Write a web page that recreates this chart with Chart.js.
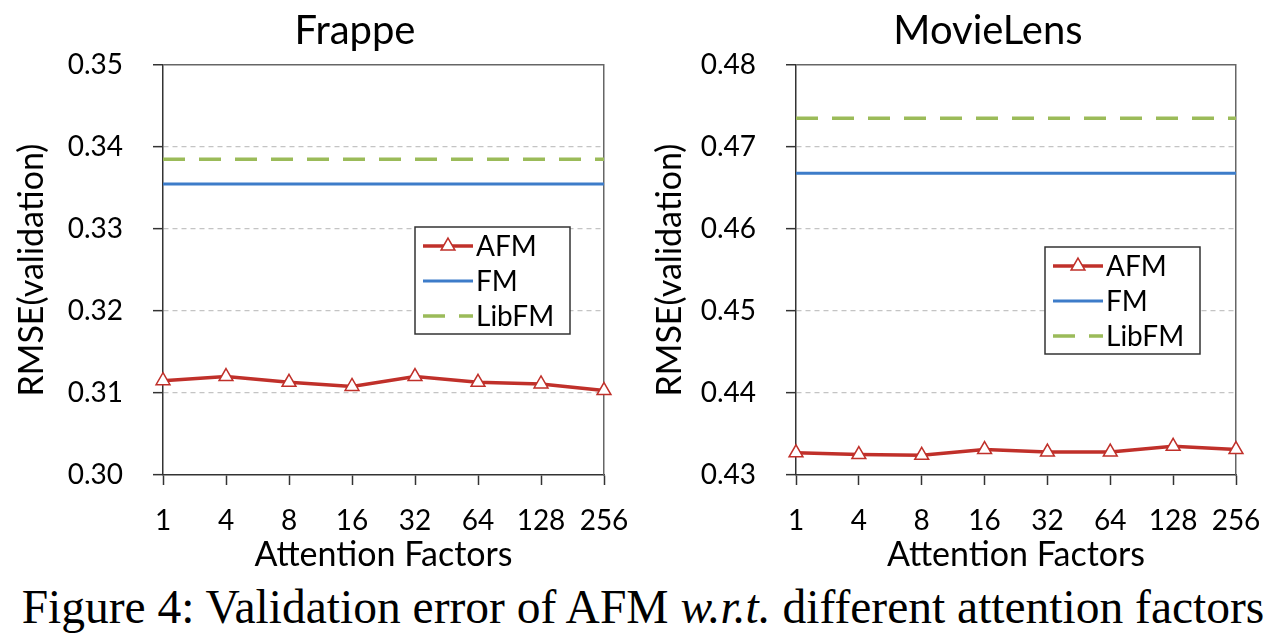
<!DOCTYPE html>
<html>
<head>
<meta charset="UTF-8">
<title>Validation error of AFM</title>
<script src="https://cdn.jsdelivr.net/npm/chart.js"></script>
<style>
  html, body { margin: 0; padding: 0; background: #fff; overflow: hidden; }
  body { width: 1286px; height: 642px; position: relative; }
  #left { position: absolute; left: 0; top: 0; z-index: 1; }
  #right { position: absolute; left: 650px; top: 0; z-index: 2; }
  #caption {
    position: absolute; left: 0; width: 1286px; top: 580px;
    text-align: center; font-family: "Liberation Serif", serif;
    font-size: 47.5px; color: #000; white-space: nowrap;
  }
</style>
</head>
<body>
<canvas id="left" width="710" height="580"></canvas>
<canvas id="right" width="676" height="580"></canvas>
<div id="caption">Figure 4: Validation error of AFM <i>w.r.t.</i> different attention factors</div>
<script>
// attention factors on the x axis
const factors = ['1', '4', '8', '16', '32', '64', '128', '256'];

// Frappe
const frappeAFM   = [0.3115, 0.3120, 0.3113, 0.3108, 0.3120, 0.3113, 0.3111, 0.3103];
const frappeFM    = [0.3355, 0.3355, 0.3355, 0.3355, 0.3355, 0.3355, 0.3355, 0.3355];
const frappeLibFM = [0.3385, 0.3385, 0.3385, 0.3385, 0.3385, 0.3385, 0.3385, 0.3385];
const frappeRange = [0.30, 0.35];

// MovieLens
const movieAFM   = [0.4327, 0.4325, 0.4324, 0.4331, 0.4328, 0.4328, 0.4335, 0.4331];
const movieFM    = [0.4668, 0.4668, 0.4668, 0.4668, 0.4668, 0.4668, 0.4668, 0.4668];
const movieLibFM = [0.4735, 0.4735, 0.4735, 0.4735, 0.4735, 0.4735, 0.4735, 0.4735];
const movieRange = [0.43, 0.48];

const RED = '#c0302a';
const BLUE = '#3d7cc9';
const GREEN = '#9bbb59';
const FONT = 'Lato';

// boxed legend drawn inside the plot area
const boxLegend = {
  id: 'boxLegend',
  afterDatasetsDraw(chart, args, opts) {
    const ctx = chart.ctx;
    const a = chart.chartArea;
    const x = a.left + opts.x, y = a.top + opts.y;
    const w = 155, rowH = 35;
    const h = rowH * chart.data.datasets.length + 2;
    ctx.save();
    ctx.fillStyle = '#fff';
    ctx.fillRect(x, y, w, h);
    ctx.strokeStyle = '#333';
    ctx.lineWidth = 1.5;
    ctx.strokeRect(x, y, w, h);
    ctx.font = '28px ' + FONT;
    ctx.textBaseline = 'middle';
    chart.data.datasets.forEach((ds, i) => {
      const cy = y + 19 + i * rowH;
      ctx.strokeStyle = ds.borderColor;
      ctx.lineWidth = ds.borderWidth;
      ctx.setLineDash(ds.borderDash || []);
      ctx.beginPath();
      ctx.moveTo(x + 8, cy);
      ctx.lineTo(x + 58, cy);
      ctx.stroke();
      ctx.setLineDash([]);
      if (ds.pointRadius > 0) {
        const r = ds.pointRadius, cx = x + 33;
        ctx.beginPath();
        ctx.moveTo(cx, cy - r);
        ctx.lineTo(cx + r * Math.sin(2 * Math.PI / 3), cy - r * Math.cos(2 * Math.PI / 3));
        ctx.lineTo(cx + r * Math.sin(4 * Math.PI / 3), cy - r * Math.cos(4 * Math.PI / 3));
        ctx.closePath();
        ctx.fillStyle = '#fff';
        ctx.fill();
        ctx.lineWidth = ds.pointBorderWidth;
        ctx.strokeStyle = ds.pointBorderColor;
        ctx.stroke();
      }
      ctx.fillStyle = '#000';
      ctx.fillText(ds.label, x + 61, cy + 1);
    });
    ctx.restore();
  }
};

function makeChart(id, title, afm, fm, libfm, range, layout) {
  const [ymin, ymax] = range;
  return new Chart(document.getElementById(id), {
    type: 'line',
    data: {
      labels: factors,
      datasets: [
        {
          label: 'AFM', data: afm, borderColor: RED, borderWidth: 3.5,
          pointStyle: 'triangle', pointRadius: 8, pointBackgroundColor: '#fff',
          pointBorderColor: RED, pointBorderWidth: 1.5, tension: 0, clip: false, order: 0
        },
        {
          label: 'FM', data: fm, borderColor: BLUE, borderWidth: 3,
          pointRadius: 0, tension: 0, order: 1
        },
        {
          label: 'LibFM', data: libfm, borderColor: GREEN, borderWidth: 3.5,
          borderDash: [22, 14], pointRadius: 0, tension: 0, order: 2
        }
      ]
    },
    options: {
      responsive: false,
      animation: false,
      layout: { padding: 0 },
      plugins: {
        legend: { display: false },
        tooltip: { enabled: false },
        title: {
          display: true, text: title, color: '#000',
          font: { family: FONT, size: 40, weight: 'normal' },
          padding: { top: 7, bottom: 10 }
        },
        boxLegend: { x: layout.legendX, y: layout.legendY }
      },
      scales: {
        x: {
          type: 'category', offset: false,
          grid: { drawOnChartArea: false, drawTicks: true, tickLength: 10, tickColor: '#333', tickWidth: 1.5 },
          border: { color: '#333', width: 1.5 },
          ticks: { color: '#000', font: { family: FONT, size: 28 }, padding: 19, maxRotation: 0, autoSkip: false },
          title: {
            display: true, text: 'Attention Factors', color: '#000',
            font: { family: FONT, size: 34 }, padding: { top: 0, bottom: 5 }
          },
          afterFit: s => { s.height = 105; }
        },
        y: {
          min: ymin, max: ymax,
          grid: {
            color: c => (c.tick.value >= ymax - 1e-9 ? '#666' : (c.tick.value <= ymin + 1e-9 ? 'rgba(0,0,0,0)' : '#c4c4c4')),
            lineWidth: c => (c.tick.value >= ymax - 1e-9 ? 1.5 : 1.3),
            tickLength: 10, tickColor: '#333', tickWidth: 1.5
          },
          border: {
            color: '#333', width: 1.5,
            dash: c => (c.tick && c.tick.value >= ymax - 1e-9 ? [] : [5, 4])
          },
          ticks: {
            stepSize: 0.01, color: '#000', padding: 30,
            font: { family: FONT, size: 28 },
            callback: v => Number(v).toFixed(2)
          },
          title: {
            display: true, text: 'RMSE(validation)', color: '#000',
            font: { family: FONT, size: 34 }, padding: { top: layout.yTitlePad, bottom: 0 }
          },
          afterFit: s => { s.width = layout.yWidth; }
        },
        frame: {
          type: 'linear', position: 'right', display: true,
          grid: { display: false, drawOnChartArea: false },
          border: { display: true, color: '#666', width: 1.5 },
          ticks: { display: false },
          afterFit: s => { s.width = layout.rightWidth; }
        }
      }
    },
    plugins: [boxLegend]
  });
}

makeChart('left', 'Frappe', frappeAFM, frappeFM, frappeLibFM, frappeRange,
  { yWidth: 163, yTitlePad: 12, rightWidth: 106, legendX: 252, legendY: 162 });
makeChart('right', 'MovieLens', movieAFM, movieFM, movieLibFM, movieRange,
  { yWidth: 146, yTitlePad: 0, rightWidth: 90, legendX: 249, legendY: 182 });
</script>
</body>
</html>
